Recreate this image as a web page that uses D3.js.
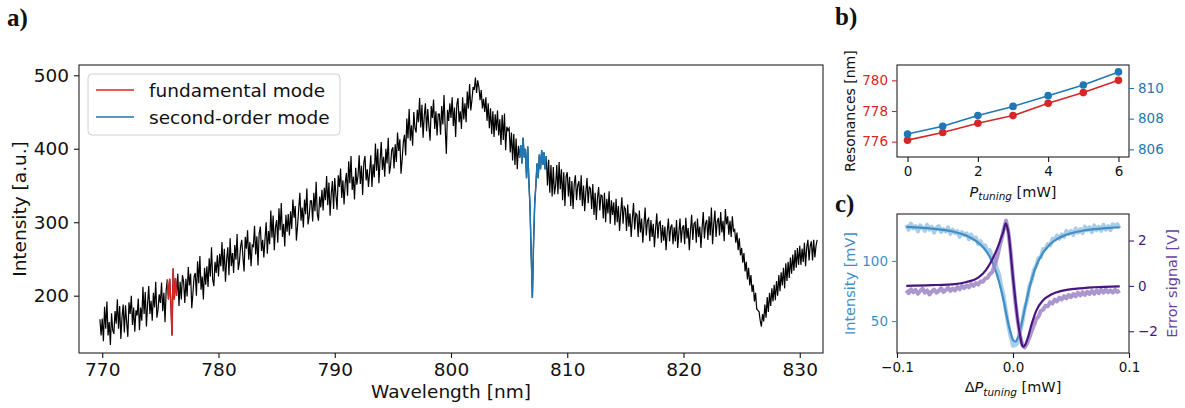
<!DOCTYPE html>
<html><head><meta charset="utf-8">
<script src="https://cdn.jsdelivr.net/npm/d3@7"></script>
<style>
body{margin:0;background:#fff;}
svg{display:block;font-family:"DejaVu Sans",sans-serif;}
</style></head><body>
<svg id="chart" width="1185" height="408"></svg>
<script>
// ---------- Panel a: spectrum ----------
const specStart = 769.8, specStep = 0.1;
const intensity = [
168,146,
169,138,185,155,192,146,164,133,176,153,
148,179,162,195,155,186,141,171,188,150,
187,164,144,191,175,200,160,184,151,180,
173,196,153,184,166,212,175,205,158,189,
213,175,193,166,204,184,219,170,181,202,
190,218,179,204,164,208,222,195,223,192,
146,237,195,224,200,230,186,219,195,228,
219,190,223,199,239,214,230,183,203,226,
231,200,247,217,254,208,226,195,238,215,
240,212,251,226,266,222,213,246,231,255,
226,257,240,273,233,264,219,249,266,228,
278,240,258,231,269,249,284,235,246,267,
276,253,233,280,264,289,249,273,240,269,
267,295,256,281,241,285,294,261,276,252,
277,300,257,288,270,316,279,309,262,293,
303,272,319,289,326,280,298,267,310,287,
311,282,315,291,331,306,322,275,295,318,
340,302,320,293,331,311,346,297,308,329,
329,301,340,315,355,311,302,335,320,344,
316,347,330,363,323,354,309,339,356,318,
360,337,317,364,348,373,333,357,324,353,
367,336,383,353,390,344,362,331,374,351,
363,391,352,377,337,381,390,357,372,348,
368,391,348,379,361,407,370,400,353,384,
409,371,389,362,400,380,415,366,377,398,
402,373,406,382,422,397,413,366,386,409,
419,391,441,414,454,411,432,404,450,428,
422,453,436,469,429,460,415,445,462,424,
454,431,411,458,442,467,427,451,418,447,
447,419,458,433,473,429,393,453,438,462,
442,470,431,456,416,460,469,436,451,427,
470,440,462,436,478,455,488,452,466,484,
480,497,476,493,484,466,480,455,468,450,
470,438,462,428,455,420,451,416,447,425,
452,418,440,405,446,412,448,398,430,425,
428,395,422,384,420,378,414,372,404,388,
405,380,415,388,400,360,403,355,320,255,
197,270,325,350,380,360,392,372,398,378,
395,372,390,350,385,340,378,335,375,338,
350,378,338,382,345,372,330,368,322,362,
368,335,362,322,356,318,352,364,330,350,
356,330,364,322,350,315,341,360,326,348,
346,318,352,310,340,303,333,348,316,337,
336,305,340,300,332,312,342,298,330,310,
327,296,332,300,322,288,313,334,298,321,
318,288,324,294,312,280,305,326,290,312,
310,280,316,286,305,272,297,320,282,302,
305,274,303,280,298,266,291,312,278,299,
301,272,296,275,294,262,287,305,274,293,
297,270,293,274,303,265,285,305,272,292,
296,270,306,278,292,262,288,310,276,298,
300,272,305,280,294,265,292,314,278,298,
303,276,308,282,320,270,297,316,280,301,
306,282,314,286,302,274,318,297,308,283,
302,280,308,288,290,272,286,262,278,255,
265,245,258,233,246,222,238,214,228,205,
215,192,204,182,180,178,166,158,175,165,
188,170,198,178,204,186,210,192,215,194,
220,200,228,206,232,214,238,210,244,220,
246,224,252,230,256,234,262,238,265,242,
268,242,264,246,272,240,266,276,248,268,
274,248,276,252,268,276
];
const fundamentalRange = [775.6, 776.4];
const secondOrderRange = [805.9, 808.2];
const wavelengthTicks = [770, 780, 790, 800, 810, 820, 830];
const intensityTicks = [200, 300, 400, 500];
const legendLabels = ["fundamental mode", "second-order mode"];

// ---------- Panel b: resonances ----------
const tuningPower = [0, 1, 2, 3, 4, 5, 6];
const fundamentalRes = [776.1, 776.6, 777.2, 777.7, 778.5, 779.2, 780.0];
const secondOrderRes = [807.0, 807.5, 808.2, 808.8, 809.5, 810.2, 811.05];
const powerTicks = [0, 2, 4, 6];
const fundResTicks = [776, 778, 780];
const secondResTicks = [806, 808, 810];

// ---------- Panel c: lock signal ----------
const rawStart = -0.092, rawStep = 0.002;
const rawIntensity = [
130,126,131,127,129,124.5,129.5,127.5,125,130,
126,128.5,123.5,127.5,129,124,126.5,124.5,128,122.5,
126,123,125,120,124,121.5,123,118,122,118,
119.5,114,116.5,112.5,113,108,109,103,102,94,
89,78.5,71,58,46.5,37,
29.5,
30,32,41,48.5,60.5,66.5,79,83.5,92.5,96,
102.5,103,110,110,114,113,118.5,118,121,118.5,
122,120,125,122.5,125,121.5,127,123.5,126.5,123,
128.5,125.5,128,124,129.5,125.5,128.5,125,130,126,
129,125.5,130.5,128.5,130.5,127
];
const rawError = [
-0.2,-0.32,-0.15,-0.28,-0.18,-0.35,-0.22,-0.12,-0.3,-0.2,
-0.38,-0.25,-0.16,-0.3,-0.22,-0.1,-0.27,-0.18,-0.08,-0.22,
-0.12,-0.2,-0.05,-0.15,0.0,-0.1,0.02,-0.06,0.08,0.0,
0.12,0.06,0.2,0.18,0.32,0.35,0.52,0.6,0.9,1.2,
1.62,2.05,2.5,2.88,2.4,1.5,
0.35,
-0.7,-1.5,-2.15,-2.6,-2.72,-2.55,-2.3,-2.0,-1.75,-1.45,
-1.35,-1.1,-1.05,-0.88,-0.9,-0.72,-0.78,-0.6,-0.68,-0.52,
-0.6,-0.45,-0.55,-0.4,-0.5,-0.36,-0.46,-0.3,-0.42,-0.28,
-0.4,-0.25,-0.36,-0.22,-0.35,-0.2,-0.32,-0.18,-0.3,-0.15,
-0.28,-0.2,-0.3,-0.17,-0.27,-0.2
];
const intFitX = [-0.092,-0.08,-0.07,-0.06,-0.05,-0.04,-0.032,-0.025,-0.02,-0.016,-0.012,-0.008,-0.005,-0.002,0.0,0.002,0.004,0.006,0.009,0.012,0.016,0.02,0.025,0.032,0.04,0.05,0.06,0.07,0.08,0.092];
const intFit = [128.3,127.6,126.9,125.8,124,121,116.7,110.5,103.3,94.6,82.5,66.5,52,40,34.5,33,35.7,42,55,68.7,84.3,95.8,105.5,113.9,119.3,123,125.1,126.4,127.2,128];
const errFitX = [-0.092,-0.07,-0.05,-0.04,-0.03,-0.023,-0.018,-0.014,-0.011,-0.008,-0.0063,-0.005,-0.0035,-0.002,0.0,0.002,0.004,0.006,0.0075,0.009,0.0105,0.013,0.016,0.02,0.026,0.033,0.042,0.055,0.07,0.092];
const errFit = [0.0,0.03,0.08,0.17,0.36,0.72,1.15,1.6,2.0,2.45,2.76,2.6,2.2,1.45,0.35,-0.6,-1.5,-2.15,-2.55,-2.68,-2.6,-2.25,-1.7,-1.1,-0.63,-0.38,-0.22,-0.12,-0.06,-0.02];
const detuneTicks = [-0.1, 0, 0.1];
const intTicks = [50, 100];
const errTicks = [-2, 0, 2];

// ---------- drawing ----------
const svg = d3.select("#chart");
const RED = "#d62728", BLUE = "#1f77b4";
const CBLUE = "#3f8fc6", CBLUE_L = "#a9cde8", PURPLE = "#48167f", PURPLE_L = "#9d84c6";
const minus = s => String(s).replace("-", "\u2212");
const intFmt = d3.format("d");

function styleAxis(g, size, color) {
  g.attr("font-size", null).attr("font-family", null);
  g.select(".domain").remove();
  g.selectAll(".tick line").attr("stroke", color).attr("stroke-width", 1.1);
  g.selectAll(".tick text").attr("fill", color).attr("font-size", size);
}
function frame(x0, x1, y0, y1) {
  svg.append("rect").attr("x", x0).attr("y", y0).attr("width", x1 - x0).attr("height", y1 - y0)
    .attr("fill", "none").attr("stroke", "#222").attr("stroke-width", 1.1);
}
function panelLabel(t, x, y) {
  svg.append("text").attr("x", x).attr("y", y).attr("font-family", "Liberation Serif, DejaVu Serif, serif")
    .attr("font-weight", "bold").attr("font-size", 25).attr("fill", "#111").text(t);
}
function ptuningLabel(x, y, prefix) {
  const t = svg.append("text").attr("x", x).attr("y", y).attr("text-anchor", "middle")
    .attr("font-size", 14.5).attr("fill", "#111");
  if (prefix) t.append("tspan").text(prefix);
  t.append("tspan").attr("font-style", "italic").text("P");
  t.append("tspan").attr("font-style", "italic").attr("font-size", 10.5).attr("dy", 3.5).text("tuning");
  t.append("tspan").attr("dy", -3.5).text(" [mW]");
}

// Panel a
const A = {l: 79, r: 823, t: 65, b: 353};
const xA = d3.scaleLinear().domain([768, 832]).range([A.l, A.r]);
const yA = d3.scaleLinear().domain([122, 514]).range([A.b, A.t]);
const spec = intensity.map((v, i) => ({w: specStart + i * specStep, v}));
const inRange = (d, r) => d.w >= r[0] - 1e-6 && d.w <= r[1] + 1e-6;
const lineA = d3.line().x(d => xA(d.w)).y(d => yA(d.v));
svg.append("path").datum(spec).attr("d", lineA).attr("fill", "none").attr("stroke", "#000").attr("stroke-width", 1.2);
svg.append("path").datum(spec.filter(d => inRange(d, fundamentalRange))).attr("d", lineA)
  .attr("fill", "none").attr("stroke", RED).attr("stroke-width", 1.5);
svg.append("path").datum(spec.filter(d => inRange(d, secondOrderRange))).attr("d", lineA)
  .attr("fill", "none").attr("stroke", BLUE).attr("stroke-width", 1.5);
frame(A.l, A.r, A.t, A.b);
svg.append("g").attr("transform", `translate(0,${A.b})`)
  .call(d3.axisBottom(xA).tickValues(wavelengthTicks).tickSize(5).tickPadding(5).tickFormat(intFmt))
  .call(g => styleAxis(g, 18.5, "#111"));
svg.append("g").attr("transform", `translate(${A.l},0)`)
  .call(d3.axisLeft(yA).tickValues(intensityTicks).tickSize(5).tickPadding(5).tickFormat(intFmt))
  .call(g => styleAxis(g, 18.5, "#111"));
svg.append("text").attr("x", xA(800)).attr("y", 398).attr("text-anchor", "middle")
  .attr("font-size", 18.5).attr("fill", "#111").text("Wavelength [nm]");
svg.append("text").attr("transform", `translate(26,${(A.t + A.b) / 2}) rotate(-90)`).attr("text-anchor", "middle")
  .attr("font-size", 18.5).attr("fill", "#111").text("Intensity [a.u.]");
// legend
const lg = svg.append("g");
lg.append("rect").attr("x", 88).attr("y", 74).attr("width", 252).attr("height", 61).attr("rx", 4)
  .attr("fill", "#fff").attr("fill-opacity", 0.8).attr("stroke", "#d0d0d0");
[RED, BLUE].forEach((c, i) => {
  const y = 90 + i * 27;
  lg.append("line").attr("x1", 96).attr("x2", 134).attr("y1", y).attr("y2", y).attr("stroke", c).attr("stroke-width", 1.5);
  lg.append("text").attr("x", 149).attr("y", y + 6.5).attr("font-size", 18.5).attr("fill", "#111").text(legendLabels[i]);
});
panelLabel("a)", 7, 26);

// Panel b
const B = {l: 897, r: 1129, t: 65, b: 157};
const xB = d3.scaleLinear().domain([-0.3, 6.3]).range([B.l, B.r]);
const yBl = d3.scaleLinear().domain([775, 781]).range([B.b, B.t]);
const yBr = d3.scaleLinear().domain([805.5, 811.5]).range([B.b, B.t]);
[[fundamentalRes, yBl, RED], [secondOrderRes, yBr, BLUE]].forEach(([vals, ys, c]) => {
  svg.append("path").datum(vals).attr("d", d3.line().x((d, i) => xB(tuningPower[i])).y(d => ys(d)))
    .attr("fill", "none").attr("stroke", c).attr("stroke-width", 1.6);
  svg.append("g").selectAll("circle").data(vals).join("circle")
    .attr("cx", (d, i) => xB(tuningPower[i])).attr("cy", d => ys(d)).attr("r", 3.8).attr("fill", c);
});
frame(B.l, B.r, B.t, B.b);
svg.append("g").attr("transform", `translate(0,${B.b})`)
  .call(d3.axisBottom(xB).tickValues(powerTicks).tickSize(5).tickPadding(4).tickFormat(intFmt))
  .call(g => styleAxis(g, 13.5, "#111"));
svg.append("g").attr("transform", `translate(${B.l},0)`)
  .call(d3.axisLeft(yBl).tickValues(fundResTicks).tickSize(5).tickPadding(4).tickFormat(intFmt))
  .call(g => styleAxis(g, 13.5, RED));
svg.append("g").attr("transform", `translate(${B.r},0)`)
  .call(d3.axisRight(yBr).tickValues(secondResTicks).tickSize(5).tickPadding(4).tickFormat(intFmt))
  .call(g => styleAxis(g, 13.5, BLUE));
svg.append("text").attr("transform", `translate(855,${(B.t + B.b) / 2}) rotate(-90)`).attr("text-anchor", "middle")
  .attr("font-size", 14).attr("fill", "#111").text("Resonances [nm]");
ptuningLabel((B.l + B.r) / 2, 196.5, null);
panelLabel("b)", 835, 25);

// Panel c
const C = {l: 897, r: 1129, t: 214, b: 353};
const xC = d3.scaleLinear().domain([-0.1, 0.1]).range([C.l, C.r]);
const yCl = d3.scaleLinear().domain([23.5, 139]).range([C.b, C.t]);
const yCr = d3.scaleLinear().domain([-2.96, 3.17]).range([C.b, C.t]);
const rawX = i => rawStart + i * rawStep;
svg.append("path").datum(rawIntensity).attr("d", d3.line().x((d, i) => xC(rawX(i))).y(d => yCl(d)))
  .attr("fill", "none").attr("stroke", CBLUE_L).attr("stroke-width", 4).attr("stroke-linejoin", "round");
svg.append("path").datum(intFit).attr("d", d3.line().curve(d3.curveMonotoneX).x((d, i) => xC(intFitX[i])).y(d => yCl(d)))
  .attr("fill", "none").attr("stroke", CBLUE).attr("stroke-width", 2.2);
svg.append("path").datum(rawError).attr("d", d3.line().x((d, i) => xC(rawX(i))).y(d => yCr(d)))
  .attr("fill", "none").attr("stroke", PURPLE_L).attr("stroke-width", 4).attr("stroke-opacity", 0.85).attr("stroke-linejoin", "round");
svg.append("path").datum(errFit).attr("d", d3.line().curve(d3.curveMonotoneX).x((d, i) => xC(errFitX[i])).y(d => yCr(d)))
  .attr("fill", "none").attr("stroke", PURPLE).attr("stroke-width", 2.2);
frame(C.l, C.r, C.t, C.b);
svg.append("g").attr("transform", `translate(0,${C.b})`)
  .call(d3.axisBottom(xC).tickValues(detuneTicks).tickSize(5).tickPadding(4).tickFormat(d => minus(d3.format(".1f")(d))))
  .call(g => styleAxis(g, 13.5, "#111"));
svg.append("g").attr("transform", `translate(${C.l},0)`)
  .call(d3.axisLeft(yCl).tickValues(intTicks).tickSize(5).tickPadding(4).tickFormat(intFmt))
  .call(g => styleAxis(g, 13.5, CBLUE));
svg.append("g").attr("transform", `translate(${C.r},0)`)
  .call(d3.axisRight(yCr).tickValues(errTicks).tickSize(5).tickPadding(4).tickFormat(d => minus(d)))
  .call(g => styleAxis(g, 13.5, PURPLE));
svg.append("text").attr("transform", `translate(855,${(C.t + C.b) / 2}) rotate(-90)`).attr("text-anchor", "middle")
  .attr("font-size", 14.5).attr("fill", CBLUE).text("Intensity [mV]");
svg.append("text").attr("transform", `translate(1177,${(C.t + C.b) / 2}) rotate(-90)`).attr("text-anchor", "middle")
  .attr("font-size", 14.5).attr("fill", "#6a3fa0").text("Error signal [V]");
ptuningLabel((C.l + C.r) / 2, 392, "\u0394");
panelLabel("c)", 835, 212);
</script>
</body></html>
